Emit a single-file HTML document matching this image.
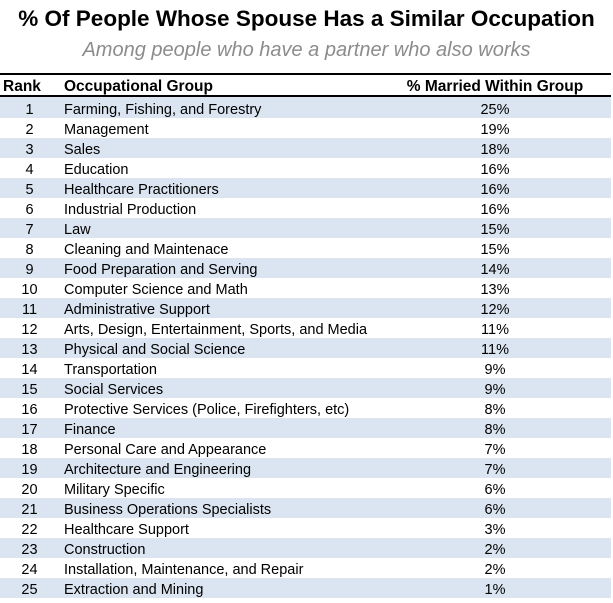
<!DOCTYPE html>
<html>
<head>
<meta charset="utf-8">
<style>
  html,body{margin:0;padding:0;background:#fff;}
  body{width:613px;height:603px;position:relative;overflow:hidden;font-family:"Liberation Sans",Arial,sans-serif;color:#000;}
  .title{position:absolute;left:0;width:613px;top:6px;height:26px;line-height:26px;text-align:center;font-size:22.5px;font-weight:bold;white-space:nowrap;}
  .sub{position:absolute;left:0;width:613px;top:38px;height:24px;line-height:24px;text-align:center;font-size:20px;font-style:italic;color:#8c8c8c;white-space:nowrap;}
  .line1{position:absolute;left:0;width:611px;top:73px;height:2px;background:#000;}
  .line2{position:absolute;left:0;width:611px;top:95px;height:2px;background:#000;}
  .hdr{position:absolute;top:77px;height:20px;line-height:20px;font-size:15.5px;font-weight:bold;white-space:nowrap;}
  .row{position:absolute;left:0;width:611px;height:20px;line-height:20px;font-size:14.5px;}
  .row.b{background:#dbe5f1;}
  .row span{top:2px;}
  .rk{position:absolute;left:0;width:59px;text-align:center;}
  .nm{position:absolute;left:64px;white-space:nowrap;}
  .pc{position:absolute;left:445px;width:100px;text-align:center;}
</style>
</head>
<body>
<div class="title">% Of People Whose Spouse Has a Similar Occupation</div>
<div class="sub">Among people who have a partner who also works</div>
<div class="line1"></div>
<div class="hdr" style="left:3px;">Rank</div>
<div class="hdr" style="left:64px;">Occupational Group</div>
<div class="hdr" style="left:395px;width:200px;text-align:center;">% Married Within Group</div>
<div class="line2"></div>

<div class="row b" style="top:97px;height:21px;"><span class="rk" style="top:3px">1</span><span class="nm" style="top:3px">Farming, Fishing, and Forestry</span><span class="pc" style="top:3px">25%</span></div>
<div class="row" style="top:118px;"><span class="rk">2</span><span class="nm">Management</span><span class="pc">19%</span></div>
<div class="row b" style="top:138px;"><span class="rk">3</span><span class="nm">Sales</span><span class="pc">18%</span></div>
<div class="row" style="top:158px;"><span class="rk">4</span><span class="nm">Education</span><span class="pc">16%</span></div>
<div class="row b" style="top:178px;"><span class="rk">5</span><span class="nm">Healthcare Practitioners</span><span class="pc">16%</span></div>
<div class="row" style="top:198px;"><span class="rk">6</span><span class="nm">Industrial Production</span><span class="pc">16%</span></div>
<div class="row b" style="top:218px;"><span class="rk">7</span><span class="nm">Law</span><span class="pc">15%</span></div>
<div class="row" style="top:238px;"><span class="rk">8</span><span class="nm">Cleaning and Maintenace</span><span class="pc">15%</span></div>
<div class="row b" style="top:258px;"><span class="rk">9</span><span class="nm">Food Preparation and Serving</span><span class="pc">14%</span></div>
<div class="row" style="top:278px;"><span class="rk">10</span><span class="nm">Computer Science and Math</span><span class="pc">13%</span></div>
<div class="row b" style="top:298px;"><span class="rk">11</span><span class="nm">Administrative Support</span><span class="pc">12%</span></div>
<div class="row" style="top:318px;"><span class="rk">12</span><span class="nm">Arts, Design, Entertainment, Sports, and Media</span><span class="pc">11%</span></div>
<div class="row b" style="top:338px;"><span class="rk">13</span><span class="nm">Physical and Social Science</span><span class="pc">11%</span></div>
<div class="row" style="top:358px;"><span class="rk">14</span><span class="nm">Transportation</span><span class="pc">9%</span></div>
<div class="row b" style="top:378px;"><span class="rk">15</span><span class="nm">Social Services</span><span class="pc">9%</span></div>
<div class="row" style="top:398px;"><span class="rk">16</span><span class="nm">Protective Services (Police, Firefighters, etc)</span><span class="pc">8%</span></div>
<div class="row b" style="top:418px;"><span class="rk">17</span><span class="nm">Finance</span><span class="pc">8%</span></div>
<div class="row" style="top:438px;"><span class="rk">18</span><span class="nm">Personal Care and Appearance</span><span class="pc">7%</span></div>
<div class="row b" style="top:458px;"><span class="rk">19</span><span class="nm">Architecture and Engineering</span><span class="pc">7%</span></div>
<div class="row" style="top:478px;"><span class="rk">20</span><span class="nm">Military Specific</span><span class="pc">6%</span></div>
<div class="row b" style="top:498px;"><span class="rk">21</span><span class="nm">Business Operations Specialists</span><span class="pc">6%</span></div>
<div class="row" style="top:518px;"><span class="rk">22</span><span class="nm">Healthcare Support</span><span class="pc">3%</span></div>
<div class="row b" style="top:538px;"><span class="rk">23</span><span class="nm">Construction</span><span class="pc">2%</span></div>
<div class="row" style="top:558px;"><span class="rk">24</span><span class="nm">Installation, Maintenance, and Repair</span><span class="pc">2%</span></div>
<div class="row b" style="top:578px;"><span class="rk">25</span><span class="nm">Extraction and Mining</span><span class="pc">1%</span></div>
</body>
</html>
